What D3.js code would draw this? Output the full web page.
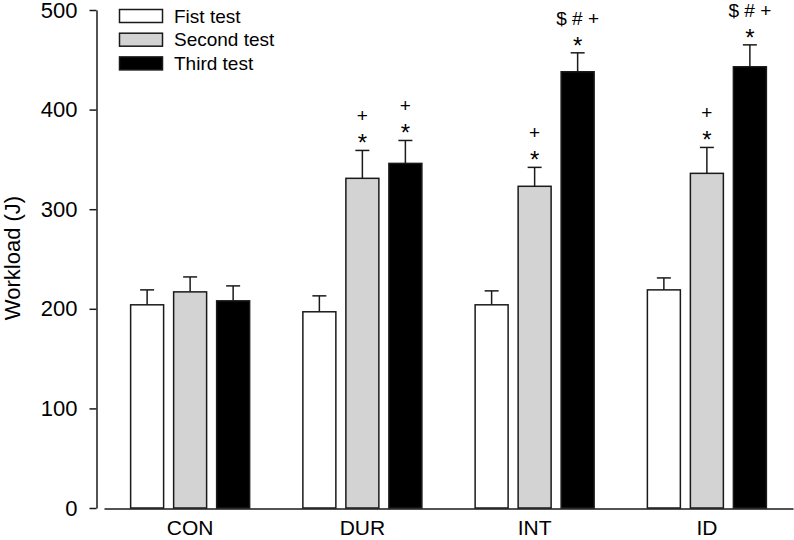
<!DOCTYPE html>
<html>
<head>
<meta charset="utf-8">
<script src="https://cdn.jsdelivr.net/npm/d3@7"></script>
<style>
  body { margin: 0; background: #fff; }
  svg { display: block; font-family: Arial, "Liberation Sans", sans-serif; }
</style>
</head>
<body>
<svg id="chart" width="794" height="540"></svg>
<script>
// ---- data ----
const categories = ["CON", "DUR", "INT", "ID"];
const seriesNames = ["Fist test", "Second test", "Third test"];
const firstValues = [204, 197, 204, 219];
const firstErrors = [15, 16, 14, 12];
const secondValues = [217, 331, 323, 336];
const secondErrors = [15, 28, 19, 26];
const thirdValues = [208, 346, 438, 443];
const thirdErrors = [15, 23, 19, 22];
const firstMarks = [[], [], [], []];
const secondMarks = [[], ["*", "+"], ["*", "+"], ["*", "+"]];
const thirdMarks = [[], ["*", "+"], ["*", "$ # +"], ["*", "$ # +"]];
const yTicks = [0, 100, 200, 300, 400, 500];
const yTitle = "Workload (J)";

// ---- build table ----
const seriesValues = [firstValues, secondValues, thirdValues];
const seriesErrors = [firstErrors, secondErrors, thirdErrors];
const seriesMarks = [firstMarks, secondMarks, thirdMarks];
const fills = ["#ffffff", "#d3d3d3", "#000000"];
const rows = [];
categories.forEach((c, ci) => {
  seriesNames.forEach((s, si) => {
    rows.push({cat: c, si: si, value: seriesValues[si][ci], err: seriesErrors[si][ci], marks: seriesMarks[si][ci]});
  });
});

const svg = d3.select("#chart");
const y = d3.scaleLinear().domain([0, 500]).range([508, 10]);
const x = d3.scaleBand().domain(categories).range([104, 793]).padding(0);
const inner = d3.scaleBand().domain(d3.range(seriesNames.length))
  .range([x.bandwidth() / 2 - 59.5, x.bandwidth() / 2 + 59.5]).paddingInner(0.233).paddingOuter(0);

const stroke = "#1a1a1a";

// bars
const g = svg.append("g");
g.selectAll("rect.bar").data(rows).join("rect")
  .attr("class", "bar")
  .attr("x", d => x(d.cat) + inner(d.si))
  .attr("width", inner.bandwidth())
  .attr("y", d => y(d.value))
  .attr("height", d => y(0) - y(d.value))
  .attr("fill", d => fills[d.si])
  .attr("stroke", stroke)
  .attr("stroke-width", 1.5);

// error bars (upper only) and significance marks
const capW = 14;
rows.forEach(d => {
  const cx = x(d.cat) + inner(d.si) + inner.bandwidth() / 2;
  const top = y(d.value + d.err);
  g.append("line").attr("x1", cx).attr("x2", cx)
    .attr("y1", y(d.value)).attr("y2", top)
    .attr("stroke", stroke).attr("stroke-width", 1.5);
  g.append("line").attr("x1", cx - capW / 2).attr("x2", cx + capW / 2)
    .attr("y1", top).attr("y2", top)
    .attr("stroke", stroke).attr("stroke-width", 1.5);
  d.marks.forEach((m, mi) => {
    const isStar = m === "*";
    g.append("text")
      .attr("x", cx)
      .attr("y", mi === 0 ? top + 1 : top - 28 - (mi - 1) * 25)
      .attr("text-anchor", "middle")
      .attr("font-size", isStar ? 24 : 19)
      .attr("fill", "#000")
      .text(m);
  });
});

// y axis
const yAxis = d3.axisLeft(y).tickValues(yTicks).tickSize(7).tickSizeOuter(0).tickPadding(12);
const ya = svg.append("g").attr("transform", "translate(96.5,0)").call(yAxis);
ya.select(".domain").attr("stroke", stroke).attr("stroke-width", 1.5);
ya.selectAll(".tick line").attr("stroke", stroke).attr("stroke-width", 1.5);
ya.selectAll(".tick text").attr("font-size", 22).attr("fill", "#000")
  .attr("font-family", "Arial, 'Liberation Sans', sans-serif");

// x axis
const xAxis = d3.axisBottom(x).tickSize(0).tickPadding(12);
const xa = svg.append("g").attr("transform", "translate(0,508.5)").call(xAxis);
xa.select(".domain").attr("stroke", stroke).attr("stroke-width", 1.5);
xa.selectAll(".tick text").attr("font-size", 21).attr("fill", "#000")
  .attr("font-family", "Arial, 'Liberation Sans', sans-serif");

// y title
svg.append("text")
  .attr("transform", "translate(20,258) rotate(-90)")
  .attr("text-anchor", "middle")
  .attr("font-size", 22)
  .attr("fill", "#000")
  .text(yTitle);

// legend
const legend = svg.append("g");
seriesNames.forEach((s, i) => {
  const ly = 9.5 + i * 23.7;
  legend.append("rect").attr("x", 119.5).attr("y", ly).attr("width", 43).attr("height", 13)
    .attr("fill", fills[i]).attr("stroke", stroke).attr("stroke-width", 1.5);
  legend.append("text").attr("x", 174).attr("y", ly + 6.5).attr("dy", "0.35em")
    .attr("font-size", 19).attr("fill", "#000").text(s);
});
</script>
</body>
</html>
